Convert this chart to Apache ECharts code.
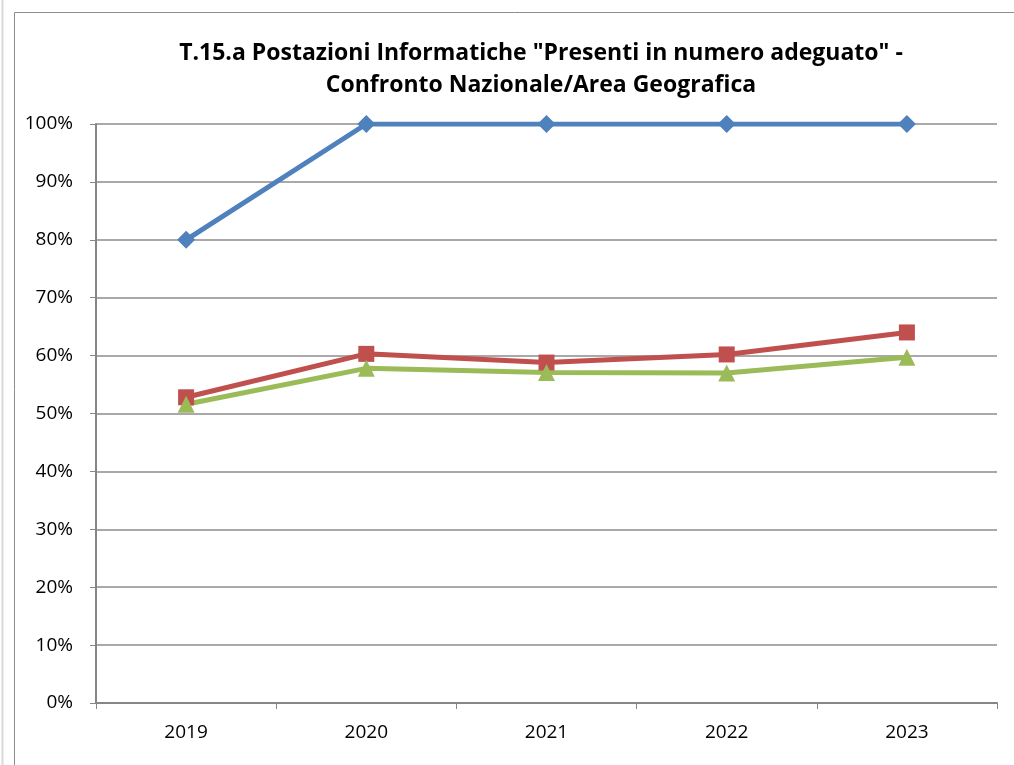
<!DOCTYPE html>
<html>
<head>
<meta charset="utf-8">
<script src="https://cdn.jsdelivr.net/npm/echarts@6/dist/echarts.min.js"></script>
<style>
  html, body { margin: 0; padding: 0; background: #fff; }
  #chart { width: 1014px; height: 765px; }
</style>
</head>
<body>
<div id="chart"></div>
<script>
(function () {
    var years = ['2019', '2020', '2021', '2022', '2023'];
    var yTicks = [0, 10, 20, 30, 40, 50, 60, 70, 80, 90, 100];
    var seriesBlue = [80, 100, 100, 100, 100];
    var seriesRed = [52.8, 60.3, 58.8, 60.2, 64.0];
    var seriesGreen = [51.6, 57.8, 57.1, 57.0, 59.7];

    var chart = echarts.init(document.getElementById('chart'));

    function lineSeries(name, data, color, symbol, size) {
        return {
            name: name,
            type: 'line',
            data: data,
            symbol: symbol,
            symbolSize: size,
            lineStyle: { color: color, width: 5 },
            itemStyle: { color: color },
            animation: false
        };
    }

    var option = {
        backgroundColor: '#fff',
        textStyle: { fontFamily: 'Open Sans' },
        title: {
            text: 'T.15.a Postazioni Informatiche "Presenti in numero adeguato" -\nConfronto Nazionale/Area Geografica',
            left: 536,
            textAlign: 'center',
            top: 32,
            textStyle: {
                fontFamily: 'Open Sans',
                fontSize: 23,
                fontWeight: 'bold',
                color: '#000',
                lineHeight: 32
            }
        },
        graphic: [
            {
                type: 'rect',
                shape: { x: 14.5, y: 12.5, width: 1100, height: 800 },
                style: { fill: 'none', stroke: '#8c8c8c', lineWidth: 1 },
                silent: true
            },
            {
                type: 'line',
                shape: { x1: 2.5, y1: 0, x2: 2.5, y2: 765 },
                style: { stroke: '#d9d9d9', lineWidth: 2 },
                silent: true
            }
        ],
        grid: {
            left: 96,
            right: 17,
            top: 124,
            bottom: 62
        },
        xAxis: {
            type: 'category',
            data: years,
            boundaryGap: true,
            axisLine: { lineStyle: { color: '#868686', width: 2 } },
            axisTick: { show: true, length: 6, lineStyle: { color: '#868686', width: 1 } },
            axisLabel: { color: '#000', fontSize: 19, margin: 20, fontFamily: 'Open Sans' }
        },
        yAxis: {
            type: 'value',
            min: yTicks[0],
            max: yTicks[yTicks.length - 1],
            interval: 10,
            axisLine: { show: true, lineStyle: { color: '#868686', width: 2 } },
            axisTick: { show: true, length: 6, lineStyle: { color: '#868686', width: 1 } },
            axisLabel: { color: '#000', fontSize: 19, margin: 23, formatter: '{value}%', fontFamily: 'Open Sans' },
            splitLine: { lineStyle: { color: '#8c8c8c', width: 1.5 } }
        },
        series: [
            lineSeries('Nazionale', seriesBlue, '#4F81BD', 'diamond', 18),
            lineSeries('Area', seriesRed, '#C0504D', 'rect', 16),
            lineSeries('Regione', seriesGreen, '#9BBB59', 'triangle', 17)
        ]
    };

    chart.setOption(option);
})();
</script>
</body>
</html>
